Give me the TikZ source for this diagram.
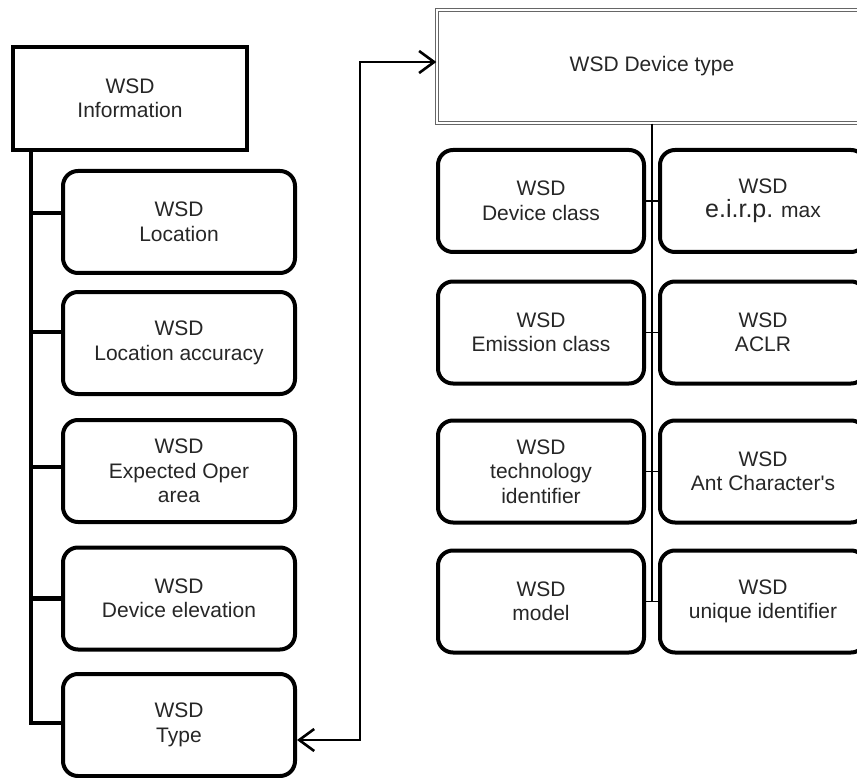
\documentclass[tikz,border=0pt]{standalone}
\usepackage{fontspec}
\setmainfont{Liberation Sans}[Ligatures=TeXOff]
\usetikzlibrary{arrows.meta,calc}

\tikzset{
  lbl/.style={font=\fontsize{21}{24.5}\selectfont, text=black!85, align=center, inner sep=0pt},
  headbox/.style={lbl, draw, line width=4pt, minimum width=234pt, minimum height=103pt},
  leaf/.style={lbl, draw, line width=4pt, rounded corners=15pt, minimum height=102pt},
  leftleaf/.style={leaf, minimum width=232pt},
  pairleaf/.style={leaf, minimum width=206pt},
  dblbox/.style={lbl, draw=gray!80!black, double=white, double distance=2pt, line width=1.4pt,
                 minimum width=430pt, minimum height=113pt},
  trunk/.style={line width=4.2pt},
  thinline/.style={line width=1.6pt},
  link/.style={line width=2.6pt, {Straight Barb[length=15pt,width=22pt,line width=2.6pt]}-{Straight Barb[length=15pt,width=22pt,line width=2.6pt]}}
}

\begin{document}
\begin{tikzpicture}[x=1pt,y=-1pt]
\useasboundingbox (0,0) rectangle (857,778);
\clip (0,0) rectangle (857,778);

% left tree
\node[headbox] (info) at (130,98.5) {WSD\\Information};
\node[leftleaf] (loc)  at (179,222) {WSD\\Location};
\node[leftleaf] (acc)  at (179,343) {WSD\\Location accuracy};
\node[leftleaf] (area) at (179,471) {WSD\\Expected Oper\\area};
\node[leftleaf] (elev) at (179,598.5) {WSD\\Device elevation};
\node[leftleaf] (type) at (179,725) {WSD\\Type};

\coordinate (tk) at ([xshift=20pt]info.south west);
\coordinate (locS)  at ([yshift=9pt]loc.west);
\coordinate (accS)  at ([yshift=11pt]acc.west);
\coordinate (areaS) at ([yshift=4pt]area.west);
\coordinate (elevS) at (elev.west);
\coordinate (typeS) at ([yshift=2pt]type.west);

\draw[trunk] (tk) -- (tk |- typeS) -- (typeS);
\foreach \s in {locS,accS,areaS,elevS}
  \draw[trunk] (tk |- \s) -- (\s);

% right tree
\node[dblbox] (dev) at (652,66.5) {WSD Device type};

\node[pairleaf] (l1) at (541,201) {WSD\\Device class};
\node[pairleaf] (r1) at (763,201) {WSD\\{\fontsize{25}{24.5}\selectfont e.i.r.p.} max};
\node[pairleaf] (l2) at (541,332.5) {WSD\\Emission class};
\node[pairleaf] (r2) at (763,332.5) {WSD\\ACLR};
\node[pairleaf] (l3) at (541,471.5) {WSD\\technology\\identifier};
\node[pairleaf] (r3) at (763,471.5) {WSD\\Ant Character's};
\node[pairleaf] (l4) at (541,601.5) {WSD\\model};
\node[pairleaf] (r4) at (763,601.5) {WSD\\unique identifier};

\draw[thinline] (dev.south) -- (dev.south |- l4.east);
\foreach \i in {1,2,3,4}
  \draw[thinline] (l\i.east) -- (r\i.west);

% link between the type box and the device type box
\coordinate (ax) at (360,0);
\coordinate (typeA) at ([yshift=-15pt]type.east);
\coordinate (devA) at ([yshift=4.5pt]dev.west);
\draw[link] (typeA) -- (typeA -| ax) -- (ax |- devA) -- (devA);
\end{tikzpicture}
\end{document}
